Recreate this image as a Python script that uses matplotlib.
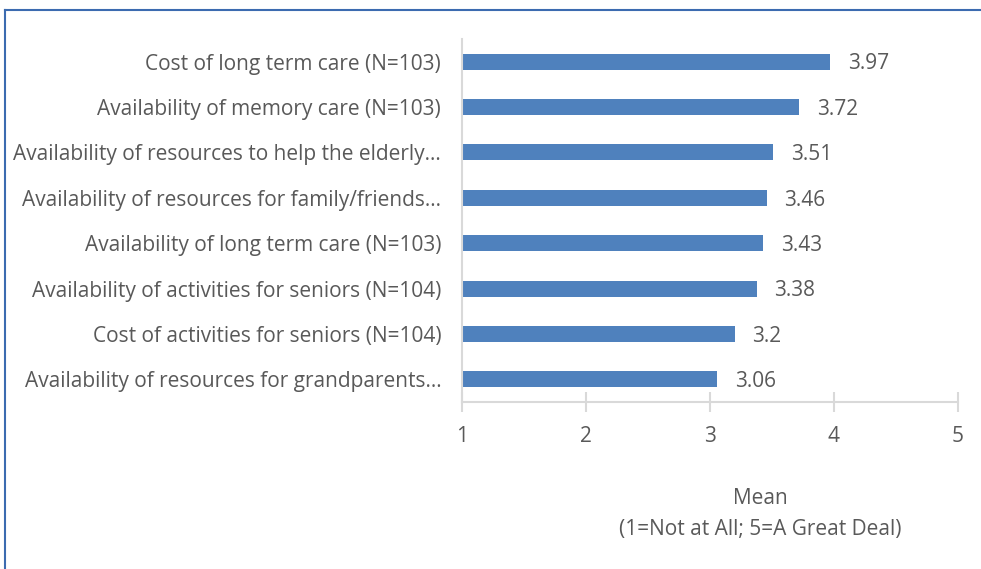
import matplotlib.pyplot as plt
from matplotlib.lines import Line2D

# chart data (top to bottom as shown)
categories = [
    "Cost of long term care (N=103)",
    "Availability of memory care (N=103)",
    "Availability of resources to help the elderly\u2026",
    "Availability of resources for family/friends\u2026",
    "Availability of long term care (N=103)",
    "Availability of activities for seniors (N=104)",
    "Cost of activities for seniors (N=104)",
    "Availability of resources for grandparents\u2026",
]
means = [3.97, 3.72, 3.51, 3.46, 3.43, 3.38, 3.2, 3.06]
x_ticks = [1, 2, 3, 4, 5]

text_col = "#595959"
bar_col = "#4f81bd"
axis_col = "#d9d9d9"
fs = 15

plt.rcParams['font.family'] = ['Open Sans', 'DejaVu Sans']

fig = plt.figure(figsize=(9.81, 5.69), dpi=100)
ax = fig.add_axes([462 / 981, 1 - 402 / 569, (958 - 462) / 981, (402 - 39) / 569])

# bars drawn from the axis minimum (1)
ypos = list(range(len(categories)))[::-1]
widths = [m - 1 for m in means]
ax.barh(ypos, widths, left=1, height=0.35, color=bar_col)

for y, m in zip(ypos, means):
    ax.text(m + 0.14, y - 0.05, str(m), va="center", ha="left",
            fontsize=fs, color=text_col)

ax.set_xlim(1, 5)
ax.set_ylim(-0.5, len(categories) - 0.5)
ax.set_yticks(ypos)
ax.set_yticklabels(categories, fontsize=fs, color=text_col)
ax.set_xticks(x_ticks)
ax.set_xticklabels([str(t) for t in x_ticks], fontsize=fs, color=text_col)

for s in ["top", "right"]:
    ax.spines[s].set_visible(False)
ax.spines["left"].set_color(axis_col)
ax.spines["bottom"].set_color(axis_col)
ax.spines["left"].set_linewidth(1.5)
ax.spines["bottom"].set_linewidth(1.5)
ax.tick_params(axis="y", length=0, pad=15)
ax.tick_params(axis="x", direction="inout", length=14, width=1.5, color=axis_col, pad=10)

fig.text(760 / 981, 1 - 499 / 569, "Mean", ha="center", va="center",
         fontsize=fs, color=text_col)
fig.text(760 / 981, 1 - 530 / 569, "(1=Not at All; 5=A Great Deal)", ha="center",
         va="center", fontsize=fs, color=text_col)

# chart frame lines (top and left)
fig.add_artist(Line2D([5 / 981, 1], [1 - 10 / 569, 1 - 10 / 569], transform=fig.transFigure,
                      color="#3c6bb0", lw=1.5))
fig.add_artist(Line2D([5 / 981, 5 / 981], [0, 1 - 10 / 569], transform=fig.transFigure,
                      color="#3c6bb0", lw=1.5))

fig.savefig("out.png", dpi=100)
